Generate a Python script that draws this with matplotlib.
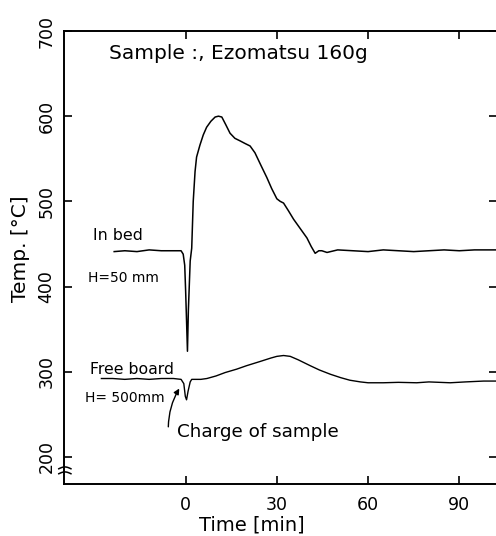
import numpy as np
import matplotlib
matplotlib.use("Agg")
import matplotlib.pyplot as plt

# ---- data ----
bed_time = [-23.5, -20, -16, -12, -8, -4, -1.5, -0.8, -0.3, 0.0, 0.3, 0.6, 0.9, 1.5, 2.0,
            2.5, 3.1, 3.6, 4.7, 5.8, 6.9, 8.3, 9.7, 10.8, 11.9, 13.2, 14.6, 16.2, 17.9,
            19.5, 21.2, 22.8, 24.8, 26.7, 28.3, 30.0, 31.1, 32.2, 33.8, 35.5, 37.7,
            39.9, 41.3, 42.6, 43.8, 44.8, 46.5, 50, 55, 60, 65, 70, 75, 80, 85, 90,
            95, 100, 103]
bed_temp = [441, 442, 441, 443, 442, 442, 442, 438, 425, 395, 360, 324, 372, 430, 445,
            500, 535, 552, 566, 578, 587, 594, 599, 600, 599, 590, 580, 574, 571,
            568, 565, 557, 542, 528, 515, 503, 500, 498, 489, 479, 468,
            457, 447, 439, 442, 442, 440, 443, 442, 441, 443, 442, 441, 442, 443, 442,
            443, 443, 443]

fb_time = [-27.7, -24, -20, -16, -12, -8, -4, -1.5, -0.6, -0.1, 0.3, 0.8, 1.5, 2.0, 3,
           5, 7, 10, 13, 16.8, 20, 24.5, 28, 30, 32.2, 34.4, 37, 41, 44, 47.6, 51, 54,
           57.5, 60, 65, 70, 76, 80, 87, 92, 98, 103]
fb_temp = [292, 292, 291, 292, 291, 292, 292, 291, 286, 271, 267, 277, 288, 291, 291,
           291, 292, 295, 299, 303, 307, 312, 316, 318, 319, 318, 314, 307, 302, 297,
           293, 290, 288, 287, 287, 287.5, 287, 288, 287, 288, 289, 289]

x_ticks = [0, 30, 60, 90]
y_ticks = [200, 300, 400, 500, 600, 700]

# ---- figure ----
fig = plt.figure(figsize=(4.96, 5.36), dpi=100)
W, H = 496, 536
ax_l, ax_r, ax_t, ax_b = 64, 497, 31, 483.7
ax = fig.add_axes([ax_l / W, 1 - ax_b / H, (ax_r - ax_l) / W, (ax_b - ax_t) / H])
ax.set_xlim(-40, 102.4)
ax.set_ylim(168.5, 700)

ax.plot(bed_time, bed_temp, color="black", lw=1.1)
ax.plot(fb_time, fb_temp, color="black", lw=1.0)

for s in ax.spines.values():
    s.set_linewidth(1.4)

ax.set_xticks(x_ticks)
ax.set_yticks(y_ticks)
ax.tick_params(axis="both", direction="in", length=6, width=1.2,
               top=True, right=True, labelsize=12.5)
ax.tick_params(axis="x", pad=9)
ax.tick_params(axis="y", pad=6)
for lab in ax.get_yticklabels():
    lab.set_rotation(90)
    lab.set_va("center")

# axis labels
fig.text(21 / W, 1 - 249 / H, "Temp. [°C]", rotation=90, ha="center", va="center",
         fontsize=14.5)
fig.text(252 / W, 1 - 525 / H, "Time [min]", ha="center", va="center", fontsize=14)

# annotations
ax.text(-25.2, 674, "Sample :, Ezomatsu 160g", ha="left", va="center", fontsize=14.5)
ax.text(-30.5, 460, "In bed", ha="left", va="center", fontsize=11.4)
ax.text(-32.1, 410, "H=50 mm", ha="left", va="center", fontsize=10)
ax.text(-31.3, 302, "Free board", ha="left", va="center", fontsize=11.3)
ax.text(-33.1, 269, "H= 500mm", ha="left", va="center", fontsize=10)
ax.text(-2.9, 229, "Charge of sample", ha="left", va="center", fontsize=13.2)
ax.annotate("", xy=(-1.6, 283), xytext=(-5.7, 232),
            arrowprops=dict(arrowstyle="-|>", color="black", lw=1.0,
                            mutation_scale=8, connectionstyle="arc3,rad=-0.15"))

# axis-break mark on the left spine
xs = np.linspace(-0.012, 0.016, 20)
for yc in (0.033, 0.022):
    ys = yc + 0.004 * np.sin((xs + 0.012) / 0.028 * np.pi)
    ax.plot(xs, ys, transform=ax.transAxes, color="black", lw=1.1, clip_on=False)

fig.savefig("out.png", dpi=100)
